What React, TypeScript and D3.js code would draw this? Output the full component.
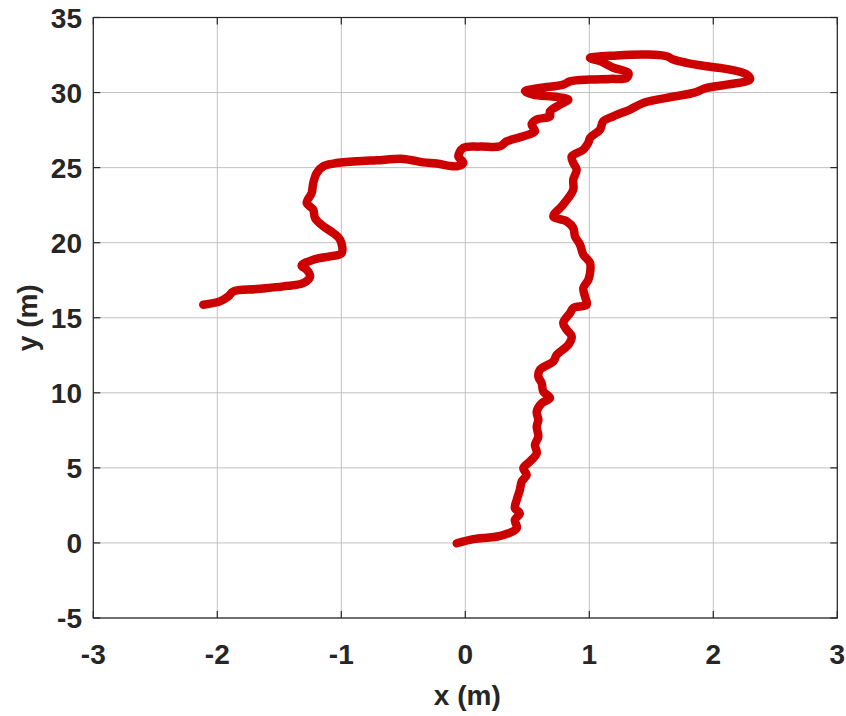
import React from "react";
import * as d3 from "d3";

const pathX = [
  -0.069, 0.065, 0.28, 0.415, 0.40, 0.44, 0.40, 0.415, 0.44, 0.455, 0.495, 0.468, 0.52, 0.576, 0.562, 0.589, 0.576, 0.589, 0.576, 0.616, 0.683, 0.629, 0.616, 0.589, 0.602, 0.71, 0.737, 0.831, 0.858, 0.818, 0.79, 0.844, 0.871, 0.979, 0.965, 0.952, 0.992,
  1.006, 1.006, 0.952, 0.925, 0.885, 0.871, 0.818, 0.71, 0.777, 0.831, 0.871, 0.871, 0.898, 0.871, 0.858, 0.952, 0.992, 1.006, 1.086, 1.113, 1.194, 1.328, 1.435, 1.624, 1.839, 1.947, 2.108, 2.296, 2.269, 2.135, 1.947, 1.785, 1.677, 1.624, 1.463, 1.221, 1.006, 1.086, 1.194, 1.315, 1.302, 1.167, 1.006, 0.844, 0.79, 0.602, 0.481, 0.548, 0.737, 0.831, 0.764, 0.683, 0.683, 0.576, 0.535, 0.562, 0.468, 0.334, 0.28, 0.119, -0.016, -0.056, -0.016, -0.069,
  -0.23, -0.339, -0.5, -0.715, -0.876, -1.065, -1.145, -1.198, -1.226, -1.239, -1.279, -1.226, -1.212, -1.145, -1.065, -1.01, -0.997, -1.091, -1.226, -1.32, -1.279, -1.252, -1.306, -1.468, -1.683, -1.871, -1.911, -1.979, -2.113,
];
const pathY = [
  -0.02, 0.25, 0.47, 0.98, 1.53, 1.98, 2.31, 2.87, 3.53, 4.09, 4.53, 4.98, 5.42, 5.98, 6.53, 7.09, 7.75, 8.2, 8.75, 9.31, 9.65, 10.09, 10.65, 11.09, 11.53, 12.09, 12.53, 13.2, 13.75, 14.2, 14.65, 15.31, 15.65, 15.87, 16.42, 16.98, 17.53,
  17.98, 18.65, 19.2, 19.87, 20.42, 20.98, 21.42, 21.75, 22.42, 22.98, 23.53, 24.2, 24.87, 25.31, 25.75, 26.2, 26.65, 26.98, 27.53, 28.09, 28.42, 28.87, 29.31, 29.65, 29.98, 30.31, 30.53, 30.87, 31.2, 31.53, 31.75, 31.98, 32.2, 32.42, 32.53, 32.47, 32.31, 32.09, 31.65, 31.31, 30.98, 30.91, 30.87, 30.75, 30.53, 30.31, 30.09, 29.87, 29.71, 29.53, 29.2, 28.75, 28.42, 28.2, 27.87, 27.42, 27.09, 26.75, 26.42, 26.4, 26.31, 25.75, 25.31, 25.09,
  25.27, 25.35, 25.58, 25.49, 25.42, 25.27, 25.09, 24.65, 23.98, 23.31, 22.65, 22.2, 21.65, 21.09, 20.65, 20.2, 19.31, 19.09, 18.87, 18.47, 18.2, 17.75, 17.31, 17.09, 16.91, 16.75, 16.42, 16.09, 15.87,
];

const xTicks = [-3, -2, -1, 0, 1, 2, 3];
const yTicks = [-5, 0, 5, 10, 15, 20, 25, 30, 35];
const xLabel = "x (m)";
const yLabel = "y (m)";

const W = 846;
const H = 716;
const left = 93.3;
const right = 837.3;
const top = 17.5;
const bottom = 618;

export default function App() {
  const x = d3.scaleLinear().domain([-3, 3]).range([left, right]);
  const y = d3.scaleLinear().domain([-5, 35]).range([bottom, top]);
  const pts: [number, number][] = pathX.map((v, i) => [v, pathY[i]]);
  const line = d3
    .line<[number, number]>()
    .x((d) => x(d[0]))
    .y((d) => y(d[1]))
    .curve(d3.curveCatmullRom.alpha(0.5));
  const axisColor = "#262626";
  const gridColor = "#c0c0c0";
  const font = "'Liberation Sans', Arial, Helvetica, sans-serif";
  const tickLen = 7;
  const fs = 28;
  return (
    <svg
      width={W}
      height={H}
      style={{ position: "absolute", left: 0, top: 0, background: "#fff" }}
    >
      <rect x={0} y={0} width={W} height={H} fill="#fff" />
      {xTicks.map((t) => (
        <line key={"gx" + t} x1={x(t)} x2={x(t)} y1={top} y2={bottom} stroke={gridColor} strokeWidth={1} />
      ))}
      {yTicks.map((t) => (
        <line key={"gy" + t} x1={left} x2={right} y1={y(t)} y2={y(t)} stroke={gridColor} strokeWidth={1} />
      ))}
      <path
        d={line(pts) || ""}
        fill="none"
        stroke="#cc0000"
        strokeWidth={8.5}
        strokeLinecap="round"
        strokeLinejoin="round"
      />
      <rect x={left} y={top} width={right - left} height={bottom - top} fill="none" stroke={axisColor} strokeWidth={1.2} />
      {xTicks.map((t) => (
        <g key={"tx" + t}>
          <line x1={x(t)} x2={x(t)} y1={bottom} y2={bottom - tickLen} stroke={axisColor} strokeWidth={1.2} />
          <line x1={x(t)} x2={x(t)} y1={top} y2={top + tickLen} stroke={axisColor} strokeWidth={1.2} />
          <text x={x(t)} y={663.5} textAnchor="middle" fontFamily={font} fontWeight="bold" fontSize={fs} fill={axisColor}>
            {t}
          </text>
        </g>
      ))}
      {yTicks.map((t) => (
        <g key={"ty" + t}>
          <line x1={left} x2={left + tickLen} y1={y(t)} y2={y(t)} stroke={axisColor} strokeWidth={1.2} />
          <line x1={right} x2={right - tickLen} y1={y(t)} y2={y(t)} stroke={axisColor} strokeWidth={1.2} />
          <text x={82} y={y(t)} dy="0.36em" textAnchor="end" fontFamily={font} fontWeight="bold" fontSize={fs} fill={axisColor}>
            {t}
          </text>
        </g>
      ))}
      <text x={(left + right) / 2 + 2} y={705} textAnchor="middle" fontFamily={font} fontWeight="bold" fontSize={fs} fill={axisColor}>
        {xLabel}
      </text>
      <text
        transform={`translate(37, ${(top + bottom) / 2}) rotate(-90)`}
        textAnchor="middle"
        fontFamily={font}
        fontWeight="bold"
        fontSize={fs}
        fill={axisColor}
      >
        {yLabel}
      </text>
    </svg>
  );
}
